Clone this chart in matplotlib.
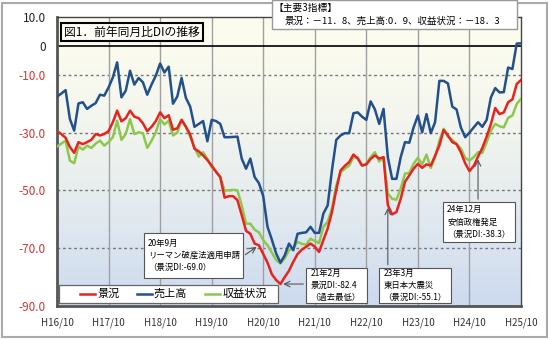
import numpy as np
import matplotlib.pyplot as plt
from matplotlib.patches import Rectangle

plt.rcParams['font.family'] = ['Noto Sans CJK JP', 'DejaVu Sans']

# 月次 H16/10 ～ H25/10 (109ヶ月)
keikyo = [-29.5, -30.5, -31.8, -35.0, -37.0, -33.3, -34.0, -33.3, -32.5, -30.5, -31.0, -30.5,
          -29.5, -26.4, -22.4, -26.1, -25.0, -22.4, -24.5, -25.0, -26.8, -29.5, -28.0, -26.0,
          -23.0, -25.0, -24.0, -29.0, -28.5, -25.6, -28.0, -30.7, -35.6, -36.5, -37.9, -39.5,
          -41.4, -43.5, -45.4, -52.5, -52.0, -52.0, -53.4, -58.6, -64.0, -65.0, -68.4, -69.0,
          -72.0, -75.0, -79.0, -81.0, -82.4, -80.0, -77.8, -74.7, -72.0, -70.5, -69.5, -68.4,
          -69.5, -71.3, -67.2, -63.2, -57.5, -49.8, -43.1, -41.5, -40.2, -37.6, -39.0, -41.4,
          -41.0, -39.1, -37.9, -39.0, -38.5, -55.1, -58.3, -57.5, -52.9, -47.0, -44.8, -42.5,
          -40.8, -42.2, -41.0, -41.4, -38.0, -34.5, -29.1, -31.0, -33.3, -34.0, -36.8, -40.6,
          -43.3, -41.5, -38.3, -35.3, -31.4, -27.0, -21.5, -23.6, -23.0, -19.5, -18.5, -13.2,
          -11.8]
uriage = [-17.6, -16.5, -15.3, -25.3, -29.3, -19.9, -19.5, -21.8, -20.7, -19.8, -16.9, -17.2,
          -14.4, -10.9, -5.7, -17.8, -15.5, -8.6, -13.4, -11.1, -12.6, -16.9, -13.4, -10.3,
          -6.1, -9.2, -7.2, -20.0, -17.5, -11.1, -18.0, -21.0, -28.0, -27.0, -26.0, -33.0,
          -25.6, -26.0, -27.0, -31.6, -31.6, -31.5, -31.4, -39.0, -42.5, -39.0, -45.4, -47.5,
          -52.0, -62.6, -67.0, -71.8, -75.0, -72.5, -68.4, -70.7, -65.0, -64.7, -64.5, -62.6,
          -64.7, -64.7, -58.0, -55.2, -43.0, -32.5, -31.0, -30.2, -30.2, -23.3, -23.0, -24.5,
          -25.6, -19.2, -22.0, -27.0, -21.8, -38.5, -46.0, -46.0, -38.5, -33.3, -33.5, -28.2,
          -24.1, -29.9, -23.6, -30.2, -26.4, -12.1, -12.1, -13.0, -21.0, -22.0, -28.2, -31.6,
          -30.0, -28.2, -26.4, -28.0, -25.6, -17.8, -14.6, -16.1, -16.0, -7.5, -8.0, 0.8,
          0.9]
shueki = [-34.8, -33.8, -32.8, -39.7, -40.6, -34.8, -35.9, -34.5, -35.3, -33.8, -32.8, -34.5,
          -33.3, -31.6, -25.9, -32.5, -30.5, -25.3, -30.5, -29.9, -30.2, -35.3, -32.8, -29.9,
          -25.3, -27.2, -25.9, -31.0, -30.0, -25.6, -28.0, -31.4, -35.1, -38.3, -36.8, -39.1,
          -42.0, -43.5, -45.4, -50.0, -50.0, -49.8, -50.0, -55.2, -61.5, -61.5, -63.6, -64.5,
          -67.2, -69.0, -71.5, -74.1, -75.3, -73.5, -70.7, -70.0, -67.8, -68.5, -68.8, -66.7,
          -67.5, -68.2, -62.6, -60.9, -56.3, -48.3, -43.7, -42.5, -41.4, -38.5, -38.6, -41.4,
          -40.8, -38.5, -36.8, -40.0, -38.5, -51.1, -52.9, -53.2, -49.4, -44.2, -44.0, -40.8,
          -38.7, -41.0, -37.6, -42.2, -38.5, -32.8, -28.7, -31.5, -32.5, -33.9, -35.5, -38.7,
          -39.7, -38.5, -36.8, -37.0, -33.3, -29.3, -27.0, -27.8, -28.2, -24.9, -24.1, -20.1,
          -18.3]
names = ['景況', '売上高', '収益状況']
colors = ['#e8231e', '#22508c', '#8cc84b']
xlabels = ['H16/10', 'H17/10', 'H18/10', 'H19/10', 'H20/10',
           'H21/10', 'H22/10', 'H23/10', 'H24/10', 'H25/10']
yticks = [10, 0, -10, -30, -50, -70, -90]
ylabels = ['10.0', '0', '-10.0', '-30.0', '-50.0', '-70.0', '-90.0']

fig = plt.figure(figsize=(5.5, 3.4), dpi=100)
ax = fig.add_axes([57/550, 34/340, 464/550, 289/340])

n = len(keikyo)
x = np.arange(n)

# 背景グラデーション（上:クリーム → 下:水色）
t = np.linspace(0, 1, 256) ** 1.6
top = np.array([252, 252, 238]) / 255
bot = np.array([204, 218, 240]) / 255
grad = top[None, :] * (1 - t[:, None]) + bot[None, :] * t[:, None]
ax.imshow(grad[:, None, :], extent=[0, n - 1, -90, 10], aspect='auto', zorder=0)

for v in [-10, -30, -50, -70]:
    ax.axhline(v, color='#777777', ls=(0, (2, 2)), lw=1, zorder=1)
for m in range(12, n - 1, 12):
    ax.axvline(m, color='#a0a0a0', lw=1, zorder=1)
ax.axhline(0, color='black', lw=1.2, zorder=2)

ax.plot(x, shueki, color=colors[2], lw=1.8, zorder=3)
ax.plot(x, uriage, color=colors[1], lw=1.8, zorder=3)
ax.plot(x, keikyo, color=colors[0], lw=1.8, zorder=4)

ax.set_xlim(0, n - 1)
ax.set_ylim(-90, 10)
ax.set_xticks(np.arange(0, n, 12))
ax.set_xticklabels(xlabels, fontsize=7, color='#333333')
ax.set_yticks(yticks)
ax.set_yticklabels(ylabels, fontsize=8.5)
for lbl, v in zip(ax.get_yticklabels(), yticks):
    lbl.set_color('#222222' if v >= 0 else '#e03030')
ax.tick_params(length=0)
ax.tick_params(axis='x', pad=8)
ax.tick_params(axis='y', pad=8)
for s in ['left', 'bottom']:
    ax.spines[s].set_linewidth(2)
    ax.spines[s].set_color('#555555')
for s in ['top', 'right']:
    ax.spines[s].set_linewidth(1)
    ax.spines[s].set_color('#444444')

ax.text(0.015, 0.948, '図1．前年同月比DIの推移', transform=ax.transAxes, fontsize=8.5,
        va='center', ha='left', zorder=8,
        bbox=dict(boxstyle='square,pad=0.25', fc='#fdfdf6', ec='black', lw=1.5))

# 凡例（下部の白枠）
ax.add_patch(Rectangle((0.0043, 0.0104), 0.472, 0.0623, transform=ax.transAxes,
                       fc='white', ec='#666666', lw=0.9, zorder=6))
leg_x = [0.0496, 0.172, 0.319]
for lx, name, c in zip(leg_x, names, colors):
    ax.plot([lx, lx + 0.032], [0.0415, 0.0415], transform=ax.transAxes, color=c,
            lw=1.8, zorder=7)
    ax.text(lx + 0.037, 0.0415, name, transform=ax.transAxes, fontsize=8,
            va='center', ha='left', zorder=7)


def note(x0, x1, y0, y1, text):
    ax.add_patch(Rectangle((x0, y0), x1 - x0, y1 - y0, fc='white', ec='#555555',
                           lw=0.8, zorder=6))
    ax.text(x0 + 1.0, (y0 + y1) / 2, text, fontsize=6, va='center', ha='left',
            linespacing=1.45, zorder=7)


note(20.2, 43.3, -80.3, -64.8, '20年9月\nリーマン破産法適用申請\n（景況DI:-69.0）')
ax.annotate('', xy=(47, keikyo[47]), xytext=(43.3, -72.8),
            arrowprops=dict(arrowstyle='->', color='#555555', lw=0.8), zorder=6)

note(58.0, 72.1, -89.0, -76.9, '21年2月\n景況DI:-82.4\n（過去最低）')
ax.annotate('', xy=(52, keikyo[52]), xytext=(58.0, keikyo[52]),
            arrowprops=dict(arrowstyle='->', color='#555555', lw=0.8), zorder=6)

note(75.0, 91.6, -89.0, -76.7, '23年3月\n東日本大震災\n（景況DI:-55.1）')
ax.annotate('', xy=(77, keikyo[77]), xytext=(77, -76.7),
            arrowprops=dict(arrowstyle='->', color='#555555', lw=0.8), zorder=6)

note(89.8, 106.7, -67.8, -54.0, '24年12月\n安倍政権発足\n（景況DI:-38.3）')
ax.annotate('', xy=(98, keikyo[98]), xytext=(98, -54.0),
            arrowprops=dict(arrowstyle='->', color='#555555', lw=0.8), zorder=6)

# 外枠と主要指標ボックス
fig.patches.append(Rectangle((2/550, 3/340), 545/550, 334/340, transform=fig.transFigure,
                             fill=False, ec='#aaaaaa', lw=1.5, zorder=0))
fig.patches.append(Rectangle((272/550, 1 - 29/340), 245/550, 28.5/340, transform=fig.transFigure,
                             fc='white', ec='#999999', lw=1, zorder=5))
fig.text(273/550, 1 - 8/340, '【主要3指標】', fontsize=7, va='center', ha='left', zorder=6)
fig.text(285/550, 1 - 21/340, '景況：－11．8、売上高:0．9、収益状況：－18．3', fontsize=6.8,
         va='center', ha='left', zorder=6)

fig.savefig('out.png', dpi=100)
